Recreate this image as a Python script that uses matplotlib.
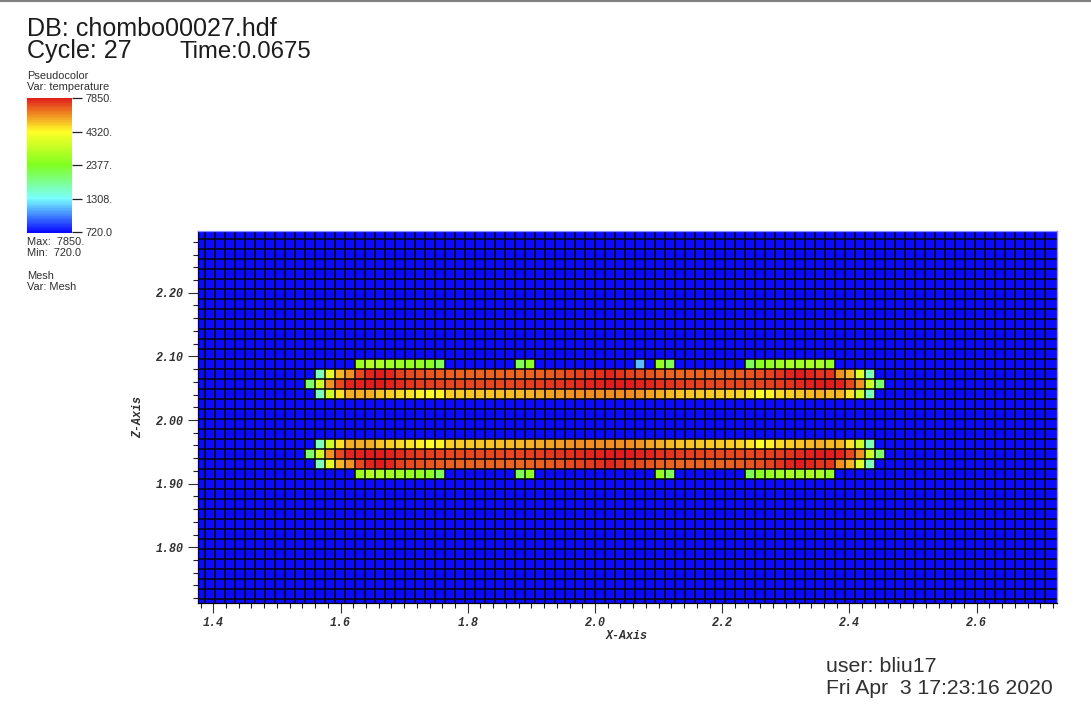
import numpy as np
import matplotlib
matplotlib.use("Agg")
import matplotlib.pyplot as plt
from matplotlib.colors import LinearSegmentedColormap, LogNorm
from matplotlib.lines import Line2D

T_MIN, T_MAX = 720.0, 7850.0
BAR_TICKS = [720, 1308, 2377, 4320, 7850]
BAR_LABELS = ["720.0", "1308.", "2377.", "4320.", "7850."]
X_TICKS = [1.4, 1.6, 1.8, 2.0, 2.2, 2.4, 2.6]
X_LABELS = ["1.4", "1.6", "1.8", "2.0", "2.2", "2.4", "2.6"]
Y_TICKS = [1.8, 1.9, 2.0, 2.1, 2.2]
Y_LABELS = ["1.80", "1.90", "2.00", "2.10", "2.20"]

# temperature per hot-band column (58 columns, left to right)
row_a = [720,720,720,720,720,2743,3018,2900,2750,2700,2620,2620,2500,2060,720,720,720,720,720,720,720,2060,2500,720,720,720,720,720,720,720,
         720,720,720,1110,720,2620,2060,720,720,720,720,720,720,720,2060,2500,2620,2750,2880,2750,2880,2880,2620,720,720,720,720,720]
row_b = [720,1585,3744,5226,5754,7000,7600,7850,7600,7100,6950,6800,6700,6600,6550,6500,6500,6500,6500,6500,6500,6450,6500,6550,6600,6700,6900,7050,7200,7400,
         7600,7300,7050,6900,6700,6550,6500,6450,6500,6500,6500,6500,6550,6600,6700,6850,7050,7300,7600,7850,7600,7300,7300,5754,5226,3744,1585,720]
row_c = [1964,3400,5754,6963,7600,7700,7850,7850,7700,7500,7300,7200,7100,7050,7000,7000,7000,7000,7000,7000,7000,7050,7100,7200,7250,7300,7400,7500,7600,7700,
         7850,7800,7850,7700,7600,7400,7300,7200,7100,7050,7000,7000,7000,7000,7000,7050,7100,7200,7300,7500,7700,7850,7850,7700,6963,5754,3400,1964]
row_d = [720,1585,3400,4690,5310,5310,5310,5040,4900,4750,4640,4450,4320,4450,4900,4950,5000,5040,5040,5100,5150,5200,5300,5400,5500,5600,5700,5790,5800,5800,
         5800,5800,5790,5700,5500,5310,5200,5040,5040,5000,4950,4950,4900,4850,4640,4320,4450,4750,4900,5040,5200,5310,5200,5226,4640,3400,1585,720]
row_h = [720,720,720,720,720,2743,3018,2900,2750,2700,2620,2620,2500,2060,720,720,720,720,720,720,720,2060,2500,720,720,720,720,720,720,720,
         720,720,720,720,720,2620,2060,720,720,720,720,720,720,720,2060,2500,2620,2750,2880,2750,2880,2880,2620,720,720,720,720,720]

W, H = 1091, 708
fig = plt.figure(figsize=(W / 100, H / 100), dpi=100, facecolor="white")

def ax_rect(l, t, r, b):
    return [l / W, 1 - b / H, (r - l) / W, (b - t) / H]

cmap = LinearSegmentedColormap.from_list(
    "hot_visit", ["#0a0aff", "#7affff", "#80ff20", "#ffff28", "#e01c1c"])
norm = LogNorm(T_MIN, T_MAX)

ax = fig.add_axes(ax_rect(198, 231, 1056.5, 603))
xlim = (1.3760, 2.7254)
ylim = (1.7125, 2.2970)
dx = 0.01572
x0 = 1.3869
dy = 0.01571
y0 = 1.7187
x_edges = np.concatenate([[xlim[0]], x0 + dx * np.arange(85), [xlim[1]]])
y_edges = np.concatenate([[ylim[0]], y0 + dy * np.arange(37), [ylim[1]]])
Z = np.full((len(y_edges) - 1, len(x_edges) - 1), T_MIN)
col0 = 11
for idx, row in [(13, row_h), (14, row_b), (15, row_c), (16, row_d),
                 (21, row_d), (22, row_c), (23, row_b), (24, row_a)]:
    Z[idx, col0:col0 + len(row)] = row
ax.pcolormesh(x_edges, y_edges, Z, cmap=cmap, norm=norm, linewidth=0)
ax.vlines(x_edges[1:-1], ylim[0], ylim[1], color="#05050f", lw=1.15)
ax.hlines(y_edges[1:-1], xlim[0], xlim[1], color="#05050f", lw=1.15)
ax.set_xlim(xlim)
ax.set_ylim(ylim)
for name, s in ax.spines.items():
    s.set_linewidth(0.9)
    s.set_color("black" if name in ("left", "bottom") else "#8a8aff")

tick_font = dict(family="Liberation Mono", weight="bold", style="italic", size=8.4, color="#303030")
ax.set_xticks(X_TICKS)
ax.set_xticklabels(X_LABELS, **tick_font)
ax.set_yticks(Y_TICKS)
ax.set_yticklabels(Y_LABELS, **tick_font)
ax.set_xticks(np.arange(1.38, 2.73, 0.02), minor=True)
ax.set_yticks(np.arange(1.72, 2.30, 0.02), minor=True)
ax.tick_params(which="major", direction="out", length=7.2, width=0.8, color="#303030", pad=3.2)
ax.tick_params(which="minor", direction="out", length=3.6, width=0.8, color="#202020")

fig.text(627 / W, 1 - 636 / H, "X-Axis", ha="center", va="center", **{**tick_font, "size": 8.4})
fig.text(138 / W, 1 - 417 / H, "Z-Axis", ha="center", va="center", rotation=90, **{**tick_font, "size": 8.4})

# colour bar
cax = fig.add_axes(ax_rect(27, 98, 72, 232.5))
levels = np.geomspace(T_MIN, T_MAX, 257)
cax.pcolormesh([0, 1], levels, levels[:-1, None], cmap=cmap, norm=norm)
cax.set_yscale("log")
cax.set_ylim(T_MIN, T_MAX)
cax.set_xticks([])
cax.yaxis.tick_right()
cax.set_yticks(BAR_TICKS)
cax.set_yticklabels(BAR_LABELS, family="Liberation Sans", size=7.8, color="#303030")
cax.minorticks_off()
cax.tick_params(axis="y", length=7.2, width=0.9, color="#202020", pad=2.5)
for s in cax.spines.values():
    s.set_visible(False)

big = dict(family="Liberation Sans", size=18.1, color="#1c1c1c", va="baseline")
fig.text(27 / W, 1 - 36 / H, "DB: chombo00027.hdf", **big)
fig.text(27 / W, 1 - 58 / H, "Cycle: 27", **big)
fig.text(179 / W, 1 - 58 / H, "Time:0.0675", **{**big, "size": 17.2})
fig.text(826 / W, 1 - 672 / H, "user: bliu17", **{**big, "size": 15.4, "color": "#303030"})
fig.text(826 / W, 1 - 693.5 / H, "Fri Apr  3 17:23:16 2020", **{**big, "size": 15.2, "color": "#303030"})

small = dict(family="Liberation Sans", size=7.9, color="#303030", va="baseline")
for y, s in [(79, "Pseudocolor"), (90, "Var: temperature"), (245, "Max:  7850."),
             (256, "Min:  720.0"), (279, "Mesh"), (290, "Var: Mesh")]:
    fig.text(27 / W, 1 - y / H, s, **small)

fig.add_artist(Line2D([0, 1], [1 - 0.5 / H, 1 - 0.5 / H], color="#808080", lw=1.5, transform=fig.transFigure))
fig.savefig("out.png", dpi=100)
